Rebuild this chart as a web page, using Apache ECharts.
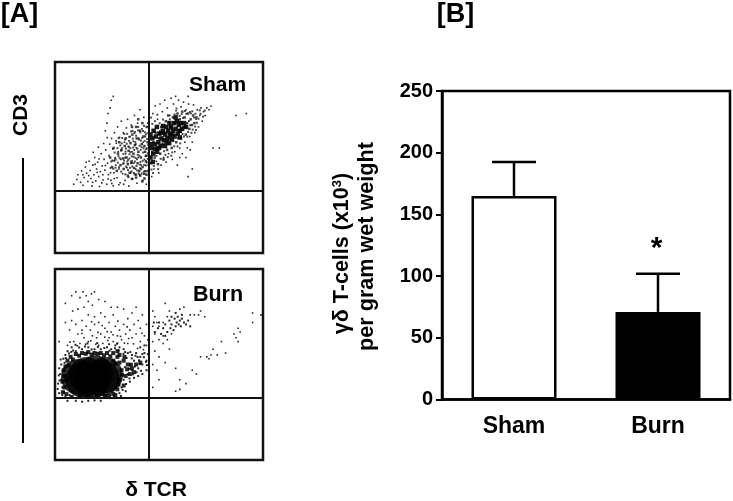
<!DOCTYPE html>
<html><head><meta charset="utf-8">
<script src="https://cdn.jsdelivr.net/npm/echarts@6/dist/echarts.min.js"></script>
<style>html,body{margin:0;padding:0;background:#fff}#c{width:733px;height:501px}</style>
</head><body><div id="c"></div>
<script>
// Panel B values
const categories = ['Sham', 'Burn'];
const meanValues = [165, 71];
const errorTops = [192.5, 102];
const yTicks = [0, 50, 100, 150, 200, 250];
const gateX = 45.3;
const gateY = 32.4;

// Panel A: dots (channel units, 0-100)
const shamSparse = [[9,36],[10.5,38.5],[11,41],[12.3,37],[12.8,43],[13.5,35.5],[14,39.5],[14.6,45],[15.2,41.8],[15.8,37.4],[16.4,48],[16.9,43.2],[17.3,39],[17.8,35],[18.2,46],[18.7,41],[19.1,50],[19.6,37.8],[20,44],[20.5,47.5],[21,40],[21.4,34.8],[21.8,42.6],[22.2,52],[22.7,45.6],[23.1,38.2],[23.6,49],[24,43.4],[24.4,54],[24.9,36],[25.3,47],[25.7,41],[26,51],[26.3,57],[26.6,44.5],[26.9,38],[27.2,60],[27.5,48.5],[27.8,54.5],[28,35.2],[28.3,42],[28.6,63],[28.9,50],[29.2,46],[29.5,57.5],[29.8,39.4],[30.1,66],[30.4,53],[30.7,44],[31,60.5],[31.3,36.8],[31.6,49],[31.9,69],[32.2,55],[32.5,41.5],[32.8,63],[33.1,47],[33.4,58],[33.7,38],[34,52],[34.3,65.5],[34.6,44.6],[34.9,70],[35.2,55.8],[35.5,35],[35.8,49.5],[36.1,61],[36.4,42],[36.7,67],[37,53],[37.3,38.8],[37.6,58.5],[37.9,47],[38.2,72],[38.5,63.5],[38.8,44],[39.1,55],[39.4,36.5],[39.7,68],[40,50],[40.3,60],[40.6,41],[40.9,75],[41.2,54],[41.5,46],[41.8,65],[42.1,38],[42.4,58],[42.7,71],[43,49],[43.3,43],[43.6,62],[43.9,36],[44.2,55],[44.5,68],[44.8,46],[46.5,40],[47,73],[47.6,44],[48.2,77],[48.7,48],[49.3,70],[49.9,42],[50.5,78],[51,46],[51.6,74],[52.2,50],[52.8,80],[53.4,47.5],[54,76],[54.6,52],[55.2,72],[55.8,81],[56.4,49],[57,78],[57.6,53],[58.2,74.5],[58.8,46],[59.4,80],[60,55],[60.6,76.5],[61.2,52],[61.8,79],[62.4,58],[63,75],[63.6,55],[64.2,78],[64.8,61],[65.4,73],[66,58],[66.6,77.5],[67.2,63],[67.8,70],[68.4,75],[69,66],[69.6,72],[70.2,76],[70.8,69],[71.4,74],[72.2,72],[73,76],[74,75],[28,82],[27,80],[26.5,76],[25.5,73],[25,68],[24.2,64],[60,50],[63,50],[65,54],[76,55],[79,55],[64,40],[66,44],[92,73],[87,72],[75,77],[64,82],[58,82],[18.1,37],[20.3,42.2],[22.5,36.7],[24.2,45.8],[19.3,46.4],[16.2,40.5],[25.6,38.7],[23,41],[21.2,49.2],[26.7,42],[28.5,39],[27.3,36.4],[30.7,35.7],[33,36],[15,47.5],[13.4,41],[18.4,52.7],[23.4,57.3],[20.9,55.4],[25.1,60.4]];
const shamMid = [[26.5,50],[27.4,45],[28.2,55],[29,49],[29.7,43],[30.3,52],[30.9,58],[31.5,46],[32,54],[32.6,49.5],[33,44],[33.5,56],[34,60],[34.4,50],[35,46.5],[35.4,53.5],[35.9,42],[36.3,57.5],[36.8,48],[37.2,62],[37.7,52],[38,44.5],[38.4,56.5],[38.9,41],[39.3,60],[39.7,47],[40.1,53],[40.5,43],[40.9,64],[41.3,50],[41.7,57],[42.1,45],[42.5,61],[42.9,41.5],[43.3,53],[43.7,48],[44.1,66],[44.5,58],[44.9,43],[35,40.5],[37,38.8],[39,39.5],[41,40.5],[43,39],[42,37.5],[44,41],[46.2,47],[46.8,53],[47.3,58],[47.9,50],[48.4,63],[48.9,55],[49.5,46.5],[50,60],[50.6,52],[51.1,66],[51.7,57],[52.2,49],[52.8,63],[53.3,69],[53.9,54],[54.4,72],[55,60],[55.6,66],[56.1,55],[56.7,71],[57.2,62],[57.8,68],[58.3,58],[58.9,73],[59.5,64],[60,70],[60.6,60],[61.2,74],[61.7,66],[62.3,71],[62.9,62],[63.5,68],[64,73],[64.6,65],[65.2,70],[65.8,67],[66.4,72],[67,68],[68,71],[44,51],[43,56],[42,68],[40,70],[39,66],[37,66]];
const shamBody = [[30.2,47.3],[33.8,41.2],[28.7,52.6],[36.2,54.9],[41.1,47.7],[38.6,58.1],[31.4,56.3],[35.1,43.4],[43.2,63.2],[39.8,51.4],[27.1,47.9],[34.7,62.4],[42.4,52.6],[37.1,45.3],[44.3,59.7],[32.9,51.8],[40.2,41.7],[29.4,58.7],[36.9,50.6],[43.7,45.8],[38.2,62.8],[33.2,48.4],[41.9,60.3],[35.6,58.7],[30.8,44.9],[44.6,49.2],[39.2,45.6],[37.6,55.2],[42.8,66.6],[34.1,54.7],[40.7,56.2],[31.8,42.6],[45,54.2],[36.5,47.1],[38.7,49.8],[43.9,42.8],[33.6,59.4],[41.4,43.9],[35.8,51.7],[28.4,48.2],[39.9,64.2],[42.2,48.3],[37.9,41.9],[30,54.9],[44.4,62.7],[34.8,47.9],[40.4,59.4],[32.3,60.2],[36.6,63.6],[43.5,50.7],[38.1,53.9],[41.6,55.4],[29.1,44.7],[35.3,39.7],[39.5,43.2],[42.7,42.6],[33.9,53.1],[37.4,59.9],[44.8,56.6],[31.1,49.6],[40.8,46.3],[36,44.6],[43.1,58.7],[38.4,47.9],[34.5,57.2],[41,63.1],[32.7,46.8],[39,61.4],[37.8,50.4],[35.7,60.8],[42.6,54.8],[30.6,60.1],[44.1,47.4],[36.8,42.7],[40.6,50.9],[33.3,62.3],[41.7,41.6],[38.8,57],[43.4,61],[35.2,48.8],[28,44.1],[31.7,53.6],[39.6,54.6],[42.9,46.1],[37.3,63.9],[34.2,45.2],[40,66],[44.7,52.3],[36.3,52.8],[38.3,41.2],[41.3,58.9],[32.1,57.4],[43.8,54.4],[39.4,49.1],[35.5,55.6],[37,47.2],[42.3,63.9],[30.5,50.7],[40.9,44.4],[33.7,49.9],[62,61],[66.2,64.6],[58.9,55.8],[64.4,69.1],[69,70.3],[60.7,64.6],[56.4,52.7],[67.4,66.2],[63.1,72.9],[59.2,60.1],[65.6,62.9],[61.6,70.7],[55.2,70],[68.2,68.2],[62.8,65.9],[57.5,72.6],[64.9,73.8],[60.2,57.4],[66.9,70.9],[63.6,60.9],[58.4,75.6],[70,72.9],[61.3,62.3],[65,66.9],[54.7,68.6],[67.8,64.3],[59.9,71.7],[62.5,74.3],[56.9,58.6],[64,63.4],[53.1,51.4],[69.6,74.7],[60.9,72.7],[51.9,69.9],[66,74.2],[55.9,50.9],[48.1,69],[49.2,72.4],[46.8,67.6],[46.2,70.9],[50.3,67.9],[47.5,45.6],[48.8,50.9],[50.8,49.3],[46.4,43.7],[52.4,53.3],[47.1,41.9],[54.2,50.2],[49.6,43.9],[57.3,55.9],[71.2,71.4],[72,74.6],[67.5,72.9]];
const shamCore = [[46.3,55],[46.8,60],[47.4,64],[47.2,52],[48,57],[48.5,61],[49,66],[49.1,53],[49.7,58],[50.2,62.5],[50.8,56],[51.2,60],[51.8,64],[52.3,59],[52.9,56],[53,62],[53.5,66],[54,60],[54.4,64],[54.9,57.5],[55.3,62],[55.8,66],[56.2,59.5],[56.7,64],[57.2,68],[57.5,61],[58,65],[58.6,69],[59,62.5],[59.5,67],[60,64],[60.5,68],[61.1,65],[62,68],[63,66],[45.9,50],[45.9,62],[46,57],[47,47.7],[48.2,54.6],[50,55],[51,63],[52,66.5],[53.6,58],[55,68],[56,62],[58,71],[60,60.5]];

const burnSparse = [[8,86],[10,88],[12,85],[13.5,88],[15,86],[16,83],[17.5,87],[19,88],[18,81],[14,80],[11,79],[8.5,78],[5,82],[21,84],[24,83],[27,80],[22,77],[19,75],[16,76],[13,73],[10,71],[8,73],[11,66],[13,68],[15,70],[17,68],[19,71],[21,72],[24,75],[26,72],[28,76],[30,80],[33,79],[29,70],[27,67],[24,69],[22,66],[20,64],[18,65],[16,62],[14,64],[12,61],[31,68],[33,71],[35,74],[37,77],[39,80],[36,68],[38,71],[40,73],[42,76],[34,66],[32,63],[30,65],[28,62],[26,64],[23,61],[21,60],[37,64],[39,66],[41,69],[43,65],[44,71],[41,62],[35,61],[44,60],[6,60],[9,62],[7,68],[2,62],[5,72],
[47,78],[48,75],[49,72],[50,70],[47,70],[48,66],[50,63],[47,62],[52,61],[54,63],[55,58],[48,57],[50,54],[53,51],[49,47],[47,50],[58,48],[60,42],[63,40],[66,47],[68,45],[47,38],[58,36],[60,37],[50,42],[52,72],[54,75],[55,78],[60,79],[62,80],[65,76],[67,76],[69,76],[70,78],[72,75],[75,55],[76,58],[70,54],[73,54],[74,53],[78,55],[82,56],[80,62],[88,62],[87,64],[86,66],[89,67],[88,69],[95,77],[99,76],[95,72],[53,82],[52,65],[56,66],
[25.4,62.6],[29.7,60.9],[33.4,61.2],[17.2,62.4],[19.6,60.6],[10.7,59.8],[7.2,61.7],[37.8,60.8],[39.7,58.4],[42.5,57.8],[44.6,62.9],[31.5,64.7],[23.9,64.3],[12.9,66.2],[27.9,65.6],[35.4,63.6],[14.7,60.6],[20.6,66.8],[34.7,69.7],[41.8,66.4],[25.1,67.2],[30.2,72.7],[17.6,72.4],[22.7,70.4]];
const burnMid = [[48,67],[49.5,69],[51,66],[52,69],[53,71],[54,67],[55,73],[55.5,69],[56,71],[57,68],[57.5,74],[58,70],[58.5,72],[59,75],[59.5,71],[60,73],[60.5,70],[61,74],[62,72],[63,71],[61,76],[58,77],[56,75],[53,65],[50,72],[47.5,72],[64,73],[65,70],
[2,35],[1.5,40],[2.5,45],[3,50],[2,48],[3.5,38],[3,42],[4,53],[5,55],[6,57],[3.5,34],[5,33],[7,34],[31,35],[32,38],[33,42],[34,36],[35,45],[36,41],[37,47],[38,43],[36,50],[38,52],[40,48],[41,54],[42,50],[43,56],[44,52],[39,56],[37,55],[35,56],[33,58],[31,59],[29,60],[27,58],[25,59],[22,58],[19,58],[16,59],[13,58],[10,57],[8,59],[40,44],[42,45],[44,47],[43,60],[41,59],[6,31],[10,31],[13,30.5],[16,31],[19,31.2],[22,31],
[1.3,37.2],[2.2,41.6],[3.6,46.7],[4.3,35.6],[1.8,44.3],[4.6,50.9],[2.7,52.6],[6.7,55.8],[8.7,57.3],[11.6,58.9],[14.4,59.4],[17.6,57.9],[20.6,59.2],[23.7,58.6],[26.2,57.2],[28.8,58.5],[30.6,57.3],[32.9,55.6],[34.4,53.4],[36.9,53.2],[38.7,54.6],[40.4,52.2],[42.7,53.8],[44.2,49.7],[41.3,46.7],[39.2,45.9],[37.4,44.8],[35.8,42.7],[34.2,39.8],[32.5,36.7],[33.6,48.6],[35.6,47.7],[31.7,33.5],[28.3,33.4],[24.6,33.2],[21.2,33.1],[17.9,33.3],[14.6,33.2],[11.4,33.2],[38.4,48.9],[40.9,50.2],[43.7,51.4],[44.6,55.4],[42,55.5],[39.7,53.9],[36.2,56.5],[33.7,56.5],[30,61],[26,60.6],[20.3,61.2],[15.6,61],[9.9,60.3],[7.8,56.6],[5.2,53.4]];
const burnHalo = [[4.5,38],[4.5,44],[5,49],[6,52],[7.5,54],[10,55.5],[13,56],[16,56.5],[19,56],[22,56],[25,56],[28,56],[30,54],[33,52],[35,50],[37,48],[39,50],[41,51],[32,47],[34,44],[36,45],[31,42],[33,39],[30,37],[31,51],[29,34],[26,33.5],[8,33],[5.5,34.5],[38,46],[28,52],[31,55],[3.6,41],[3.8,35.5],[4.2,47],[5.4,42],[6.6,49.5],[8.6,52.6],[11.6,54.6],[14.8,55.6],[17.6,55.2],[20.6,55.6],[23.6,54.8],[26.6,54.3],[29,50.4],[32.2,44.6],[30.5,39.5],[28,34.6],[24,33.6],[20,33.4],[16,33.6],[12,33.4],[34.7,47.5],[36.5,49.9],[33.4,54],[30,57]];
const burnCore = [[13.6,41.9],[19.3,45.4],[22.5,42.8],[15.2,44.5],[17.7,41.5],[11.5,43.5],[24,44.5]];

const dots = (data, size, xi, opacity) => ({
  type: 'scatter', xAxisIndex: xi, yAxisIndex: xi, data, symbol: 'rect', symbolSize: size, silent: true,
  itemStyle: { color: '#000', opacity }
});
const gateLines = (xi) => ({
  type: 'scatter', xAxisIndex: xi, yAxisIndex: xi, data: [], silent: true,
  markLine: { symbol: 'none', silent: true, animation: false, label: { show: false },
    lineStyle: { color: '#111', type: 'solid', width: 2 },
    data: [{ xAxis: gateX }, { yAxis: gateY }] }
});
const font = '"Liberation Sans", Arial, sans-serif';
const txt = (text, x, y, size, rotation) => ({
  type: 'text', x, y, rotation: rotation || 0,
  style: { text, fill: '#000', font: `bold ${size}px ${font}`, textAlign: 'center', textVerticalAlign: 'middle' }
});
const panelAxis = (g) => ({ gridIndex: g, type: 'value', min: 0, max: 100, axisLine: { show: false }, axisTick: { show: false }, axisLabel: { show: false }, splitLine: { show: false } });
const box = { show: true, borderColor: '#111', borderWidth: 2.5, backgroundColor: '#fff' };

const chart = echarts.init(document.getElementById('c'), null, { renderer: 'canvas' });
chart.setOption({
  animation: false,
  backgroundColor: '#fff',
  grid: [
    { left: 55, top: 62, width: 208, height: 191, ...box },
    { left: 55, top: 269, width: 208, height: 191, ...box },
    { left: 442, top: 91, width: 288, height: 308.5, show: true, borderColor: '#000', borderWidth: 2.5 }
  ],
  xAxis: [panelAxis(0), panelAxis(1), {
    gridIndex: 2, type: 'category', data: categories,
    axisLine: { lineStyle: { color: '#000', width: 2.5 } }, axisTick: { show: false },
    axisLabel: { color: '#000', fontWeight: 'bold', fontSize: 23, fontFamily: font, margin: 16 }
  }],
  yAxis: [panelAxis(0), panelAxis(1), {
    gridIndex: 2, type: 'value', min: 0, max: 250, interval: 50,
    axisLine: { show: true, lineStyle: { color: '#000', width: 2.5 } },
    axisTick: { show: true, length: 6, lineStyle: { color: '#000', width: 2 } },
    splitLine: { show: false },
    axisLabel: { color: '#000', fontWeight: 'bold', fontSize: 20, fontFamily: font, margin: 9,
      formatter: v => yTicks.includes(v) ? String(v) : '' }
  }],
  series: [
    dots(shamSparse, 1.6, 0, 0.85), dots(shamBody, 2, 0, 0.7), dots(shamMid, 2.5, 0, 0.75), dots(shamCore, 4.5, 0, 0.9), gateLines(0),
    dots(burnSparse, 1.6, 1, 0.85), dots(burnMid, 2, 1, 0.85), dots(burnHalo, 4, 1, 0.85),
    { type: 'scatter', xAxisIndex: 1, yAxisIndex: 1, data: burnCore, symbol: 'circle', symbolSize: 36, silent: true, itemStyle: { color: '#000' } },
    gateLines(1),
    { type: 'custom', xAxisIndex: 2, yAxisIndex: 2, silent: true, z: 1,
      data: categories.map((c, i) => [i, meanValues[i], errorTops[i]]),
      renderItem: (params, api) => {
        const base = api.coord([api.value(0), api.value(1)]);
        const top = api.coord([api.value(0), api.value(2)]);
        const st = { stroke: '#000', lineWidth: 2.5 };
        return { type: 'group', children: [
          { type: 'line', shape: { x1: top[0], y1: base[1], x2: top[0], y2: top[1] }, style: st },
          { type: 'line', shape: { x1: top[0] - 22, y1: top[1], x2: top[0] + 22, y2: top[1] }, style: st }
        ] };
      } },
    { type: 'bar', xAxisIndex: 2, yAxisIndex: 2, barWidth: 85, silent: true, z: 2,
      data: meanValues.map((v, i) => ({ value: v, itemStyle: { color: i ? '#000' : '#fff', borderColor: '#000', borderWidth: 2.5 } })) }
  ],
  graphic: [
    txt('[A]', 19.5, 15, 27), txt('[B]', 455.5, 15, 27),
    txt('CD3', 21, 115, 21, Math.PI / 2),
    { type: 'line', shape: { x1: 23, y1: 158, x2: 23, y2: 443 }, style: { stroke: '#000', lineWidth: 2 } },
    txt('δ TCR', 156, 490, 21),
    txt('Sham', 217.5, 85, 21), txt('Burn', 218, 295, 21.5),
    { type: 'text', x: 342, y: 253.5, rotation: Math.PI / 2,
      style: { text: 'γδ T-cells (x10{s|3})', fill: '#000', font: `bold 21.5px ${font}`, textAlign: 'center', textVerticalAlign: 'middle',
        rich: { s: { fill: '#000', font: `bold 13px ${font}`, verticalAlign: 'top', padding: [0, 0, 8, 0] } } } },
    txt('per gram wet weight', 367, 246.5, 21.6, Math.PI / 2),
    { type: 'text', x: 656.5, y: 249, style: { text: '*', fill: '#000', font: `bold 30px ${font}`, textAlign: 'center', textVerticalAlign: 'middle' } }
  ]
});
</script></body></html>
